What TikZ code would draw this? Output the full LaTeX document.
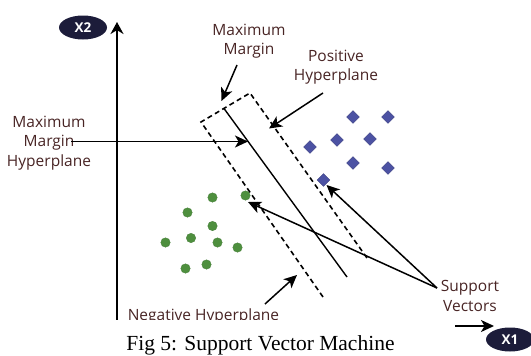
\documentclass[tikz,border=0pt]{standalone}
\usepackage{fontspec}
\setmainfont{Liberation Serif}
\newfontfamily\labelfont{Open Sans}
\usetikzlibrary{shapes.geometric,arrows.meta}
\definecolor{lbl}{RGB}{72,36,36}
\definecolor{navy}{RGB}{28,28,58}
\definecolor{pos}{RGB}{76,82,163}
\definecolor{neg}{RGB}{78,143,62}
\tikzset{
  lab/.style={text=lbl,align=center,inner sep=0pt,font=\labelfont\fontsize{15.5}{19.5}\selectfont},
  axisline/.style={line width=2pt,-{Stealth[length=12pt,width=13pt]}},
  arr/.style={line width=1.5pt,-{Stealth[length=13pt,width=12pt,inset=3.5pt]}},
  hyp/.style={line width=1.4pt},
  marg/.style={line width=1.6pt,dash pattern=on 5pt off 3.5pt},
  diam/.style={diamond,fill=pos,draw=pos!80!black,line width=0.3pt,minimum size=13pt,inner sep=0pt},
  dot/.style={circle,fill=neg,draw=neg!85!black,line width=0.3pt,minimum size=9.5pt,inner sep=0pt},
  axlab/.style={ellipse,fill=navy,text=white,minimum width=48pt,minimum height=24pt,inner sep=0pt,font=\labelfont\bfseries\fontsize{13.5}{14}\selectfont}
}
\begin{document}
\begin{tikzpicture}[x=1pt,y=-1pt]
\useasboundingbox (0,0) rectangle (531,356);
% axis and clipped bottom text
\begin{scope}
\clip (0,0) rectangle (531,319.5);
\coordinate (yb) at (117,330);
\coordinate (yt) at (117,22);
\draw[axisline] (yb) -- (yt);
\node[lab,anchor=base] (nh) at (203.5,320) {Negative Hyperplane};
\end{scope}
\node[axlab] (x2) at (83,27.5) {X2};
\node[axlab] (x1) at (510,339.5) {X1};
\coordinate (x1s) at (455,326);
\coordinate (x1t) at (494,326);
\draw[arr] (x1s) -- (x1t);
% margin region
\coordinate (d1) at (323,297);
\coordinate (d2) at (201,122);
\coordinate (d3) at (250,93);
\coordinate (d4) at (367,258);
\draw[marg] (d1) -- (d2) -- (d3) -- (d4);
\coordinate (h1) at (224,108.5);
\coordinate (h2) at (347,277);
\draw[hyp] (h1) -- (h2);
% points
\foreach \p/\x/\y in {a/353/117,b/388/117,c/337/140,d/370/139,e/310/147,f/353/163,g/388/168,s/323.5/180}
  \node[diam] (p\p) at (\x,\y) {};
\foreach \p/\x/\y in {a/212.5/197.5,s/245.5/195.5,b/187.5/212.5,c/212.5/226,d/165.5/242.5,e/191/238,f/217.5/242.5,g/237.5/247.5,h/185.5/268.5,i/206.5/264.5}
  \node[dot] (n\p) at (\x,\y) {};
% labels
\node[lab] (mmh) at (49,143) {Maximum\\Margin\\Hyperplane};
\node[lab] (mm) at (249,41) {Maximum\\Margin};
\node[lab] (ph) at (336,67) {Positive\\Hyperplane};
\node[lab] (sv) at (470,296) {Support\\Vectors};
% arrows
\coordinate (mmhs) at (71,141.5);
\coordinate (mmht) at (248,141.5);
\draw[arr] (mmhs) -- (mmht);
\coordinate (mms) at (237,65);
\coordinate (mmt) at (221.5,101);
\draw[arr] (mms) -- (mmt);
\coordinate (phs) at (323,93);
\coordinate (pht) at (269,128.5);
\draw[arr] (phs) -- (pht);
\coordinate (nhs) at (265,304);
\coordinate (nht) at (297,275);
\draw[arr] (nhs) -- (nht);
\coordinate (svs) at (437,288);
\coordinate (svt1) at (326.5,185);
\coordinate (svt2) at (248,202);
\draw[arr] (svs) -- (svt1);
\draw[arr] (svs) -- (svt2);
% caption
\node[anchor=base,inner sep=0pt,font=\fontsize{21.5}{24}\selectfont] (cap) at (260.5,350) {Fig 5: Support Vector Machine};
\end{tikzpicture}
\end{document}
